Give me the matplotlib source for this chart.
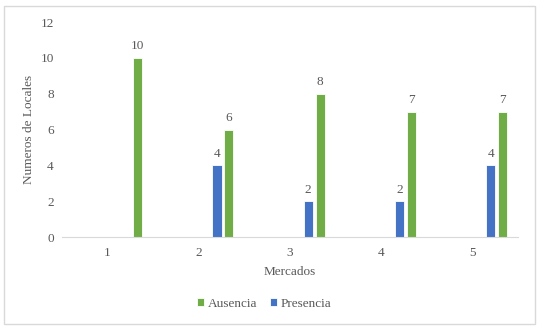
import matplotlib
matplotlib.use("Agg")
import matplotlib.pyplot as plt
from matplotlib.patches import Rectangle

categories = ["1", "2", "3", "4", "5"]
ausencia = [10, 6, 8, 7, 7]
presencia = [0, 4, 2, 2, 4]

plt.rcParams['font.family'] = ['Liberation Serif', 'DejaVu Serif']
gray = "#595959"
green = "#70AD47"
blue = "#4472C4"
fs = 9.5

W, H = 539, 331
fig = plt.figure(figsize=(W / 100, H / 100), dpi=100)
ax = fig.add_axes([62 / W, 1 - 237 / H, (518 - 62) / W, (237 - 22) / H])

x = list(range(len(categories)))
bw = 0.1
xb = [i + 0.2 for i in x]
xg = [i + 0.33 for i in x]
bars_b = ax.bar(xb, presencia, width=bw, color=blue, edgecolor="white", linewidth=0.6, label="Presencia")
bars_g = ax.bar(xg, ausencia, width=bw, color=green, edgecolor="white", linewidth=0.6, label="Ausencia")

for xi, v in zip(xb, presencia):
    if v > 0:
        ax.text(xi, v + 0.3, str(v), ha="center", va="bottom", fontsize=fs, color=gray)
for xi, v in zip(xg, ausencia):
    ax.text(xi, v + 0.3, str(v), ha="center", va="bottom", fontsize=fs, color=gray)

ax.set_xlim(-0.5, len(categories) - 0.5)
ax.set_ylim(0, 12)
ax.set_yticks(range(0, 13, 2))
ax.set_xticks(x)
ax.set_xticklabels(categories)
ax.tick_params(axis="both", length=0, labelsize=fs, labelcolor=gray)
ax.tick_params(axis="y", pad=6)
ax.tick_params(axis="x", pad=7)
for s in ["top", "right", "left"]:
    ax.spines[s].set_visible(False)
ax.spines["bottom"].set_color("#D9D9D9")
ax.spines["bottom"].set_linewidth(0.8)

ax.set_ylabel("Numeros de Locales", fontsize=fs, color=gray, labelpad=4)
ax.set_xlabel("Mercados", fontsize=fs, color=gray, labelpad=5)

handles = [bars_g, bars_b]
leg = fig.legend(handles, ["Ausencia", "Presencia"], loc="center", bbox_to_anchor=(0.49, 1 - 304 / H),
                 ncol=2, frameon=False, fontsize=fs, handlelength=0.55, handleheight=0.55,
                 handletextpad=0.25, columnspacing=1.0)
for t in leg.get_texts():
    t.set_color(gray)

fig.patches.append(Rectangle((4 / W, 1 - 324 / H), (535 - 4) / W, (324 - 6) / H,
                             transform=fig.transFigure, fill=False, edgecolor="#D9D9D9", linewidth=1))

fig.savefig("out.png", dpi=100)
